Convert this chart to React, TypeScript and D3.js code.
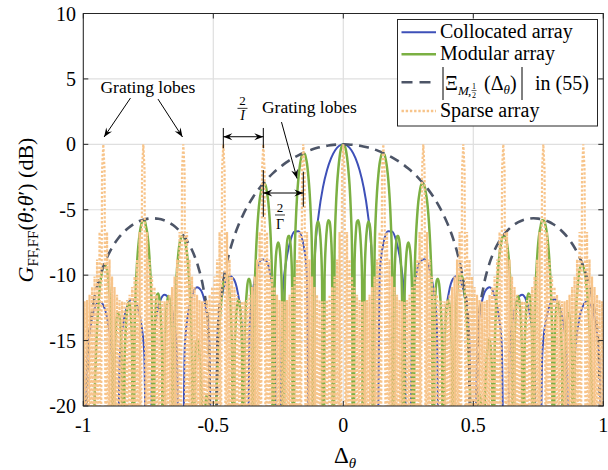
import React from 'react';
import * as d3 from 'd3';

// ---------- axis ticks ----------
const xTicks = [-1, -0.5, 0, 0.5, 1];
const xTickLabels = ['-1', '-0.5', '0', '0.5', '1'];
const yTicks = [10, 5, 0, -5, -10, -15, -20];
const yTickLabels = ['10', '5', '0', '-5', '-10', '-15', '-20'];

// ---------- series (values for Δθ >= 0, pattern is symmetric about 0; -40 / -30 = deep null below axis) ----------
// Collocated array, sampled every 1/64 in Δθ (0 .. 1)
const collocatedStep = 1 / 64;
const collocatedHalfDb = [
  0, -0.11, -0.45, -1.05, -1.96, -3.27, -5.22, -8.55, -40,
  -9.62, -7.4, -6.65, -6.67, -7.35, -8.82, -11.77, -40,
  -12.29, -9.86, -8.91, -8.78, -9.31, -10.66, -13.5, -40,
  -13.82, -11.3, -10.28, -10.07, -10.54, -11.82, -14.6, -40,
  -14.81, -12.24, -11.18, -10.92, -11.35, -12.59, -15.34, -40,
  -15.48, -12.88, -11.78, -11.5, -11.9, -13.11, -15.83, -40,
  -15.91, -13.28, -12.16, -11.85, -12.22, -13.41, -16.1, -40,
  -16.15, -13.5, -12.35, -12.02, -12.37, -13.54, -16.21, -40,
];

// Modular array, sampled every 1/208 in Δθ (0 .. 1)
const modularStep = 1 / 208;
const modularHalfDb = [
  0, -0.1, -0.4, -1.0, -1.9, -3.1, -5.0, -8.3, -40, -9.1, -6.8, -5.9, -5.8, -6.3, -7.6, -10.3,
  -40, -10.4, -7.6, -6.4, -5.9, -6.1, -7.0, -9.4, -40, -8.6, -5.4, -3.6, -2.4, -1.5, -1.0, -0.7,
  -0.7, -0.8, -1.2, -1.8, -2.7, -4.0, -5.9, -9.2, -40, -10.2, -7.9, -7.0, -7.0, -7.5, -8.9, -11.7,
  -40, -11.8, -9.1, -7.9, -7.5, -7.8, -8.7, -11.2, -40, -10.5, -7.3, -5.6, -4.4, -3.7, -3.2, -3.0,
  -3.0, -3.2, -3.7, -4.3, -5.3, -6.7, -8.7, -12.1, -40, -13.2, -11.0, -10.3, -10.3, -11.0, -12.4, -15.3,
  -40, -15.7, -13.2, -12.2, -11.9, -12.3, -13.5, -16.1, -40, -15.8, -12.9, -11.4, -10.4, -10.0, -10.0, -10.1,
  -10.5, -11.3, -12.4, -13.8, -15.4, -18.0, -21.6, -27.9, -40, -28.8, -23.4, -20.9, -19.5, -19.1, -19.6, -21.7,
  -40, -20.7, -17.6, -16.0, -15.1, -14.9, -15.6, -17.7, -40, -16.3, -12.9, -10.8, -9.4, -8.4, -7.7, -7.2,
  -7.0, -7.0, -7.2, -7.6, -8.4, -9.5, -11.3, -14.5, -40, -15.2, -12.8, -11.8, -11.6, -12.1, -13.3, -16.0,
  -40, -15.9, -13.2, -11.9, -11.4, -11.5, -12.4, -14.7, -40, -13.9, -10.6, -8.8, -7.5, -6.7, -6.2, -5.8,
  -5.8, -5.9, -6.3, -6.9, -7.8, -9.1, -11.0, -14.3, -40, -15.3, -13.0, -12.1, -12.1, -12.7, -14.0, -16.8,
  -40, -17.0, -14.4, -13.2, -12.9, -13.1, -14.2, -16.7, -40, -16.1, -13.1, -11.4, -10.3, -9.6, -9.3, -9.2,
  -9.3, -9.7, -10.3, -11.2, -12.4, -14.0, -16.3, -20.0, -40, -21.8, -20.2, -20.1, -20.9, -22.6, -25.6, -31.4,
  -40,
];

// |Xi_{M,1/2}(Δθ)| envelope, sampled every 1/52 in Δθ (0 .. 1)
const envelopeStep = 1 / 52;
const envelopeHalfDb = [
  0, -0.01, -0.04, -0.09, -0.16, -0.25, -0.36, -0.5, -0.66, -0.84, -1.05, -1.28, -1.55,
  -1.85, -2.18, -2.56, -2.98, -3.46, -4.0, -4.63, -5.35, -6.21, -7.25, -8.59, -10.45, -13.57,
  -40, -13.83, -10.97, -9.38, -8.31, -7.54, -6.96, -6.52, -6.19, -5.95, -5.78, -5.69, -5.65,
  -5.68, -5.76, -5.9, -6.11, -6.39, -6.74, -7.18, -7.73, -8.43, -9.32, -10.51, -12.22, -15.21,
  -40,
];

// Sparse array, sampled every 1/208 in Δθ (0 .. 1)
const sparseStep = 1 / 208;
const sparseHalfDb = [
  0, -1.95, -30, -6.7, -30, -8.8, -30, -10.1, -30, -10.9, -30, -11.5, -30, -11.9, -30, -12.0,
  -30, -12.0, -30, -11.9, -30, -11.5, -30, -10.9, -30, -10.1, -30, -8.8, -30, -6.7, -30, -1.95,
  0, -1.95, -30, -6.7, -30, -8.8, -30, -10.1, -30, -10.9, -30, -11.5, -30, -11.9, -30, -12.0,
  -30, -12.0, -30, -11.9, -30, -11.5, -30, -10.9, -30, -10.1, -30, -8.8, -30, -6.7, -30, -1.95,
  0, -1.95, -30, -6.7, -30, -8.8, -30, -10.1, -30, -10.9, -30, -11.5, -30, -11.9, -30, -12.0,
  -30, -12.0, -30, -11.9, -30, -11.5, -30, -10.9, -30, -10.1, -30, -8.8, -30, -6.7, -30, -1.95,
  0, -1.95, -30, -6.7, -30, -8.8, -30, -10.1, -30, -10.9, -30, -11.5, -30, -11.9, -30, -12.0,
  -30, -12.0, -30, -11.9, -30, -11.5, -30, -10.9, -30, -10.1, -30, -8.8, -30, -6.7, -30, -1.95,
  0, -1.95, -30, -6.7, -30, -8.8, -30, -10.1, -30, -10.9, -30, -11.5, -30, -11.9, -30, -12.0,
  -30, -12.0, -30, -11.9, -30, -11.5, -30, -10.9, -30, -10.1, -30, -8.8, -30, -6.7, -30, -1.95,
  0, -1.95, -30, -6.7, -30, -8.8, -30, -10.1, -30, -10.9, -30, -11.5, -30, -11.9, -30, -12.0,
  -30, -12.0, -30, -11.9, -30, -11.5, -30, -10.9, -30, -10.1, -30, -8.8, -30, -6.7, -30, -1.95,
  0, -1.95, -30, -6.7, -30, -8.8, -30, -10.1, -30, -10.9, -30, -11.5, -30, -11.9, -30, -12.0,
  -30,
];

const legendLabels = ['Collocated array', 'Modular array', 'in (55)', 'Sparse array'];

// ---------- styles ----------
const FONT = "'Liberation Serif', 'Times New Roman', Times, serif";
const C_BLUE = '#3E50B8';
const C_GREEN = '#7BB043';
const C_DASH = '#4D5567';
const C_ORANGE = '#F7C48A';
const C_AXIS = '#262626';
const C_GRID = '#DFDFDF';
const DASH = '10,6.5';
const DOT = '2.4,1.8';

type Pt = { x: number; y: number };

function mirror(half: number[], step: number): Pt[] {
  const n = half.length - 1;
  const full = [...half.slice(1).reverse(), ...half];
  return full.map((v, i) => ({ x: (i - n) * step, y: v }));
}

function arrowHead(x1: number, y1: number, x2: number, y2: number, len = 9, wid = 7) {
  const a = Math.atan2(y2 - y1, x2 - x1);
  const ux = Math.cos(a), uy = Math.sin(a);
  const nx = -uy, ny = ux;
  const bx = x2 - len * ux, by = y2 - len * uy;
  const mx = x2 - 0.65 * len * ux, my = y2 - 0.65 * len * uy;
  return `M${x2},${y2}L${bx + (nx * wid) / 2},${by + (ny * wid) / 2}L${mx},${my}L${bx - (nx * wid) / 2},${by - (ny * wid) / 2}Z`;
}

function Arrow({ xa, ya, xb, yb, both = false }: { xa: number; ya: number; xb: number; yb: number; both?: boolean }) {
  return (
    <g>
      <line x1={xa} y1={ya} x2={xb} y2={yb} stroke="#000" strokeWidth={1} />
      <path d={arrowHead(xa, ya, xb, yb)} fill="#000" />
      {both && <path d={arrowHead(xb, yb, xa, ya)} fill="#000" />}
    </g>
  );
}

export default function App() {
  const W = 608, H = 470;
  const x = d3.scaleLinear().domain([-1, 1]).range([83.3, 603.3]);
  const y = d3.scaleLinear().domain([-20, 10]).range([406, 13.5]);
  const [px0, px1] = x.range();
  const [py0, py1] = y.range();

  const smooth = d3.line<Pt>().x((d) => x(d.x)).y((d) => y(d.y)).curve(d3.curveMonotoneX);
  const straight = d3.line<Pt>().x((d) => x(d.x)).y((d) => y(d.y));

  const collocated = mirror(collocatedHalfDb, collocatedStep);
  const modular = mirror(modularHalfDb, modularStep);
  const envelope = mirror(envelopeHalfDb, envelopeStep);
  const sparse = mirror(sparseHalfDb, sparseStep);

  // annotation anchors in data units (Δθ, dB)
  const gI = [-0.4615, -0.3077];
  const gG = [-0.3077, -0.1538];

  const lx0 = 401.5, lx1 = 436, ltx = 440;
  const rows = [32.3, 54.3, 82.3, 111];

  return (
    <svg width={W} height={H} viewBox={`0 0 ${W} ${H}`} style={{ position: 'absolute', left: 0, top: 0, background: '#fff' }} fontFamily={FONT}>
      <defs>
        <clipPath id="plotClip">
          <rect x={px0} y={py1} width={px1 - px0} height={py0 - py1} />
        </clipPath>
      </defs>
      <rect x={0} y={0} width={W} height={H} fill="#fff" />

      {/* grid */}
      <g stroke={C_GRID} strokeWidth={1.2}>
        {xTicks.map((t) => (
          <line key={'gx' + t} x1={x(t)} x2={x(t)} y1={py0} y2={py1} />
        ))}
        {yTicks.map((t) => (
          <line key={'gy' + t} x1={px0} x2={px1} y1={y(t)} y2={y(t)} />
        ))}
      </g>

      {/* curves */}
      <g clipPath="url(#plotClip)" fill="none">
        <path d={smooth(collocated) || ''} stroke={C_BLUE} strokeWidth={2} />
        <path d={smooth(modular) || ''} stroke={C_GREEN} strokeWidth={2.5} />
        <path d={smooth(envelope) || ''} stroke={C_DASH} strokeWidth={2.6} strokeDasharray={DASH} />
        <path d={straight(sparse) || ''} stroke={C_ORANGE} strokeWidth={2.2} strokeDasharray={DOT} />
      </g>

      {/* axes box */}
      <rect x={px0} y={py1} width={px1 - px0} height={py0 - py1} fill="none" stroke={C_AXIS} strokeWidth={1} />
      <g stroke={C_AXIS} strokeWidth={1}>
        {xTicks.map((t) => (
          <g key={'tx' + t}>
            <line x1={x(t)} x2={x(t)} y1={py0} y2={py0 - 5} />
            <line x1={x(t)} x2={x(t)} y1={py1} y2={py1 + 5} />
          </g>
        ))}
        {yTicks.map((t) => (
          <g key={'ty' + t}>
            <line x1={px0} x2={px0 + 5} y1={y(t)} y2={y(t)} />
            <line x1={px1} x2={px1 - 5} y1={y(t)} y2={y(t)} />
          </g>
        ))}
      </g>

      {/* tick labels */}
      <g fontSize={20} fill="#000">
        {xTicks.map((t, i) => (
          <text key={'lx' + t} x={x(t)} y={432} textAnchor="middle">
            {xTickLabels[i]}
          </text>
        ))}
        {yTicks.map((t, i) => (
          <text key={'ly' + t} x={76} y={y(t) + 7} textAnchor="end">
            {yTickLabels[i]}
          </text>
        ))}
      </g>

      {/* axis labels */}
      <text x={345} y={463} fontSize={23} textAnchor="middle" fill="#000">
        Δ<tspan fontSize={15} fontStyle="italic" dy={5}>θ</tspan>
      </text>
      <text transform="translate(33,210) rotate(-90)" fontSize={22} textAnchor="middle" fill="#000">
        <tspan fontStyle="italic">G</tspan>
        <tspan fontSize={15} dy={5}>FF,FF</tspan>
        <tspan dy={-5}>(</tspan>
        <tspan fontStyle="italic">θ</tspan>
        <tspan>;</tspan>
        <tspan fontStyle="italic">θ</tspan>
        <tspan>′) (dB)</tspan>
      </text>

      {/* annotations */}
      <g fill="#000">
        <text x={x(-0.934)} y={y(3.92)} fontSize={17.5}>Grating lobes</text>
        <Arrow xa={x(-0.8185)} ya={y(3.54)} xb={x(-0.92)} yb={y(0.56)} />
        <Arrow xa={x(-0.7127)} ya={y(3.46)} xb={x(-0.6185)} yb={y(0.56)} />

        <line x1={x(gI[0])} x2={x(gI[0])} y1={y(1.25)} y2={y(-0.3)} stroke="#000" />
        <line x1={x(gI[1])} x2={x(gI[1])} y1={y(1.25)} y2={y(-0.3)} stroke="#000" />
        <Arrow xa={x(gI[0])} ya={y(0.58)} xb={x(gI[1])} yb={y(0.58)} both />
        <text x={x(-0.3877)} y={y(3.0)} fontSize={13} textAnchor="middle">2</text>
        <line x1={x(-0.3877) - 5} x2={x(-0.3877) + 5} y1={y(2.75)} y2={y(2.75)} stroke="#000" strokeWidth={0.8} />
        <text x={x(-0.3877)} y={y(1.86)} fontSize={14} fontStyle="italic" textAnchor="middle">I</text>

        <text x={x(-0.3127)} y={y(2.43)} fontSize={17.5}>Grating lobes</text>
        <Arrow xa={x(-0.2377)} ya={y(1.7)} xb={x(-0.178)} yb={y(-2.61)} />

        <line x1={x(gG[0])} x2={x(gG[0])} y1={y(-1.97)} y2={y(-5.54)} stroke="#000" />
        <line x1={x(gG[1])} x2={x(gG[1])} y1={y(-2.09)} y2={y(-4.77)} stroke="#000" />
        <Arrow xa={x(gG[0])} ya={y(-3.72)} xb={x(gG[1])} yb={y(-3.72)} both />
        <text x={x(-0.2435)} y={y(-5.14)} fontSize={13} textAnchor="middle">2</text>
        <line x1={x(-0.2435) - 5} x2={x(-0.2435) + 5} y1={y(-5.4)} y2={y(-5.4)} stroke="#000" strokeWidth={0.8} />
        <text x={x(-0.2435)} y={y(-6.44)} fontSize={14} textAnchor="middle">Γ</text>
      </g>

      {/* legend */}
      <g>
        <rect x={397.5} y={19.5} width={200} height={106.5} fill="#fff" stroke={C_AXIS} strokeWidth={1} />
        <line x1={lx0} x2={lx1} y1={rows[0]} y2={rows[0]} stroke={C_BLUE} strokeWidth={2} />
        <line x1={lx0} x2={lx1} y1={rows[1]} y2={rows[1]} stroke={C_GREEN} strokeWidth={2.5} />
        <line x1={lx0} x2={lx1} y1={rows[2]} y2={rows[2]} stroke={C_DASH} strokeWidth={2.6} strokeDasharray="11,7" />
        <line x1={lx0} x2={lx1} y1={rows[3]} y2={rows[3]} stroke={C_ORANGE} strokeWidth={2.3} strokeDasharray={DOT} />
        <g fontSize={20} fill="#000">
          <text x={ltx} y={rows[0] + 5.5}>{legendLabels[0]}</text>
          <text x={ltx} y={rows[1] + 5.5}>{legendLabels[1]}</text>
          <text x={ltx} y={rows[3] + 5.5}>{legendLabels[3]}</text>
          {/* |Xi_{M,1/2}(Δθ)| in (55) */}
          <line x1={443} x2={443} y1={67} y2={100} stroke="#000" strokeWidth={1} />
          <text x={445} y={90}>Ξ</text>
          <text x={458} y={95} fontSize={13} fontStyle="italic">M</text>
          <text x={468} y={95} fontSize={13}>,</text>
          <text x={474} y={88.5} fontSize={8} textAnchor="middle">1</text>
          <line x1={471.5} x2={476.5} y1={90.5} y2={90.5} stroke="#000" strokeWidth={0.6} />
          <text x={474} y={97.5} fontSize={8} textAnchor="middle">2</text>
          <text x={484} y={90}>
            (Δ<tspan fontSize={13} fontStyle="italic" dy={4}>θ</tspan>
            <tspan dy={-4}>)</tspan>
          </text>
          <line x1={522} x2={522} y1={67} y2={100} stroke="#000" strokeWidth={1} />
          <text x={535} y={90}>{legendLabels[2]}</text>
        </g>
      </g>
    </svg>
  );
}
